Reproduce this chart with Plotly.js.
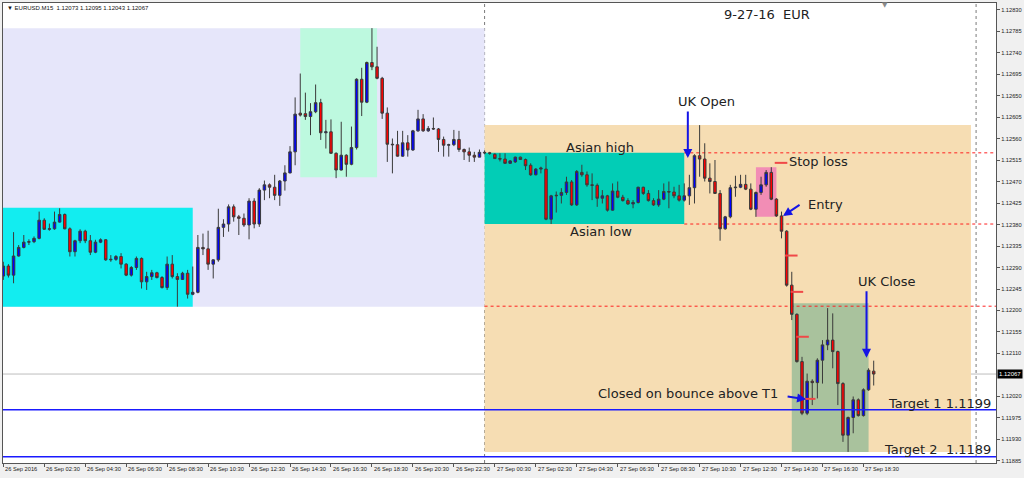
<!DOCTYPE html>
<html><head><meta charset="utf-8">
<script src="https://cdn.plot.ly/plotly-3.0.1.min.js"></script>
<style>html,body{margin:0;padding:0;background:#f0f0f0;overflow:hidden}#chart{width:1024px;height:478px}</style>
</head><body><div id="chart"></div>
<script>
// EURUSD M15, 26 Sep 2016 00:30 .. 27 Sep 2016 19:00 (one value per 15-minute bar)
const open = [1.12272,1.12293,1.12274,1.12314,1.12332,1.12343,1.12344,1.12351,1.12389,1.12370,
1.12371,1.12385,1.12401,1.12371,1.12323,1.12346,1.12366,1.12346,1.12322,1.12343,
1.12348,1.12306,1.12307,1.12313,1.12297,1.12274,1.12290,1.12309,1.12260,1.12271,
1.12279,1.12269,1.12248,1.12297,1.12271,1.12265,1.12278,1.12234,1.12238,1.12332,
1.12329,1.12297,1.12306,1.12374,1.12381,1.12417,1.12396,1.12393,1.12379,1.12429,
1.12381,1.12452,1.12463,1.12458,1.12441,1.12471,1.12488,1.12532,1.12613,1.12612,
1.12606,1.12616,1.12635,1.12572,1.12574,1.12529,1.12494,1.12525,1.12506,1.12541,
1.12684,1.12636,1.12719,1.12710,1.12686,1.12613,1.12548,1.12547,1.12523,1.12551,
1.12536,1.12576,1.12601,1.12576,1.12581,1.12580,1.12558,1.12546,1.12547,1.12558,
1.12537,1.12532,1.12525,1.12521,1.12531,1.12530,1.12527,1.12518,1.12517,1.12508,
1.12511,1.12521,1.12516,1.12504,1.12484,1.12496,1.12496,1.12391,1.12440,1.12441,
1.12447,1.12469,1.12421,1.12489,1.12484,1.12463,1.12462,1.12435,1.12440,1.12410,
1.12450,1.12437,1.12430,1.12423,1.12426,1.12458,1.12445,1.12430,1.12421,1.12433,
1.12449,1.12448,1.12440,1.12431,1.12440,1.12457,1.12524,1.12517,1.12477,1.12470,
1.12445,1.12371,1.12396,1.12457,1.12458,1.12464,1.12454,1.12412,1.12447,1.12463,
1.12489,1.12433,1.12398,1.12366,1.12253,1.12192,1.12093,1.11985,1.12052,1.12049,
1.12096,1.12128,1.12138,1.12114,1.12047,1.11939,1.11976,1.12013,1.11980,1.12034,
1.12073];
const high = [1.12302,1.12297,1.12364,1.12337,1.12358,1.12349,1.12355,1.12407,1.12393,1.12382,
1.12407,1.12414,1.12403,1.12374,1.12348,1.12370,1.12369,1.12358,1.12348,1.12351,
1.12349,1.12316,1.12316,1.12320,1.12299,1.12293,1.12313,1.12311,1.12281,1.12285,
1.12281,1.12272,1.12313,1.12316,1.12278,1.12281,1.12285,1.12292,1.12358,1.12361,
1.12367,1.12307,1.12413,1.12391,1.12422,1.12422,1.12400,1.12403,1.12435,1.12435,
1.12456,1.12472,1.12466,1.12484,1.12473,1.12504,1.12544,1.12646,1.12696,1.12656,
1.12634,1.12673,1.12643,1.12599,1.12600,1.12531,1.12595,1.12527,1.12585,1.12686,
1.12708,1.12721,1.12791,1.12752,1.12689,1.12625,1.12560,1.12576,1.12576,1.12567,
1.12578,1.12620,1.12611,1.12586,1.12604,1.12582,1.12564,1.12549,1.12578,1.12576,
1.12539,1.12541,1.12532,1.12537,1.12535,1.12532,1.12529,1.12529,1.12529,1.12515,
1.12522,1.12522,1.12518,1.12508,1.12498,1.12501,1.12523,1.12442,1.12449,1.12456,
1.12480,1.12473,1.12494,1.12505,1.12491,1.12487,1.12466,1.12452,1.12442,1.12466,
1.12470,1.12442,1.12435,1.12431,1.12459,1.12459,1.12452,1.12435,1.12452,1.12466,
1.12470,1.12459,1.12463,1.12466,1.12484,1.12527,1.12588,1.12550,1.12508,1.12515,
1.12452,1.12398,1.12463,1.12482,1.12484,1.12484,1.12466,1.12449,1.12480,1.12494,
1.12500,1.12435,1.12407,1.12368,1.12281,1.12194,1.12103,1.12068,1.12056,1.12100,
1.12138,1.12205,1.12194,1.12116,1.12050,1.11978,1.12020,1.12016,1.12037,1.12079,
1.12095];
const low = [1.12264,1.12269,1.12257,1.12313,1.12330,1.12337,1.12341,1.12349,1.12369,1.12367,
1.12369,1.12384,1.12370,1.12313,1.12313,1.12341,1.12341,1.12316,1.12320,1.12341,
1.12304,1.12302,1.12304,1.12288,1.12272,1.12271,1.12285,1.12246,1.12243,1.12264,
1.12267,1.12246,1.12243,1.12267,1.12208,1.12264,1.12225,1.12232,1.12236,1.12316,
1.12285,1.12267,1.12302,1.12354,1.12365,1.12386,1.12358,1.12375,1.12349,1.12372,
1.12375,1.12431,1.12435,1.12431,1.12419,1.12451,1.12487,1.12504,1.12606,1.12599,
1.12567,1.12613,1.12557,1.12539,1.12528,1.12477,1.12493,1.12480,1.12504,1.12537,
1.12607,1.12634,1.12703,1.12684,1.12601,1.12511,1.12487,1.12522,1.12522,1.12522,
1.12534,1.12574,1.12574,1.12574,1.12578,1.12532,1.12522,1.12522,1.12544,1.12532,
1.12515,1.12511,1.12511,1.12521,1.12527,1.12526,1.12517,1.12512,1.12507,1.12507,
1.12509,1.12515,1.12494,1.12482,1.12483,1.12487,1.12389,1.12381,1.12405,1.12424,
1.12442,1.12419,1.12419,1.12480,1.12459,1.12431,1.12417,1.12424,1.12407,1.12409,
1.12435,1.12428,1.12421,1.12414,1.12424,1.12442,1.12428,1.12419,1.12417,1.12431,
1.12414,1.12435,1.12428,1.12428,1.12421,1.12424,1.12480,1.12470,1.12445,1.12444,
1.12346,1.12369,1.12393,1.12438,1.12456,1.12452,1.12410,1.12396,1.12442,1.12459,
1.12431,1.12396,1.12351,1.12250,1.12180,1.12091,1.11981,1.11981,1.12002,1.12016,
1.12047,1.12117,1.12079,1.12002,1.11925,1.11904,1.11943,1.11978,1.11978,1.12032,
1.12043];
const close = [1.12293,1.12274,1.12314,1.12332,1.12343,1.12344,1.12351,1.12389,1.12370,1.12371,
1.12385,1.12401,1.12371,1.12323,1.12346,1.12366,1.12346,1.12322,1.12343,1.12348,
1.12306,1.12307,1.12313,1.12297,1.12274,1.12290,1.12309,1.12260,1.12271,1.12279,
1.12269,1.12248,1.12297,1.12271,1.12265,1.12278,1.12234,1.12238,1.12332,1.12329,
1.12297,1.12306,1.12374,1.12381,1.12417,1.12396,1.12393,1.12379,1.12429,1.12381,
1.12452,1.12463,1.12458,1.12441,1.12471,1.12488,1.12532,1.12611,1.12609,1.12606,
1.12616,1.12635,1.12572,1.12574,1.12529,1.12494,1.12525,1.12506,1.12541,1.12684,
1.12636,1.12719,1.12710,1.12686,1.12613,1.12548,1.12547,1.12523,1.12551,1.12536,
1.12576,1.12601,1.12576,1.12581,1.12580,1.12558,1.12546,1.12547,1.12558,1.12537,
1.12532,1.12525,1.12521,1.12531,1.12530,1.12529,1.12518,1.12517,1.12508,1.12513,
1.12521,1.12516,1.12503,1.12484,1.12496,1.12498,1.12391,1.12440,1.12441,1.12447,
1.12469,1.12421,1.12491,1.12484,1.12463,1.12462,1.12435,1.12440,1.12410,1.12450,
1.12437,1.12430,1.12423,1.12426,1.12458,1.12445,1.12430,1.12421,1.12433,1.12449,
1.12448,1.12440,1.12431,1.12440,1.12457,1.12524,1.12517,1.12477,1.12470,1.12445,
1.12371,1.12396,1.12457,1.12458,1.12464,1.12454,1.12412,1.12447,1.12463,1.12489,
1.12433,1.12398,1.12366,1.12253,1.12192,1.12093,1.11985,1.12052,1.12049,1.12096,
1.12128,1.12138,1.12114,1.12047,1.11939,1.11976,1.12013,1.11980,1.12034,1.12075,
1.12067];

// time axis labels (every 8 bars = 2 hours)
const tickBars = [0,8,16,24,32,40,48,56,64,72,80,88,96,104,112,120,128,136,144,152,160,168];
const tickLabels = ["26 Sep 2016","26 Sep 02:30","26 Sep 04:30","26 Sep 06:30","26 Sep 08:30","26 Sep 10:30",
"26 Sep 12:30","26 Sep 14:30","26 Sep 16:30","26 Sep 18:30","26 Sep 20:30","26 Sep 22:30",
"27 Sep 00:30","27 Sep 02:30","27 Sep 04:30","27 Sep 06:30","27 Sep 08:30","27 Sep 10:30",
"27 Sep 12:30","27 Sep 14:30","27 Sep 16:30","27 Sep 18:30"];
const priceTicks = [1.11885,1.11930,1.11975,1.12020,1.12110,1.12155,1.12200,1.12245,1.12290,1.12335,
1.12380,1.12425,1.12470,1.12515,1.12560,1.12605,1.12650,1.12695,1.12740,1.12785,1.12830];

// day separators (bar index of 00:00)
const daySeparators = [94, 190];

// zones: start bar, end bar, low, high
const zoneStart = [-3, -3, 58, 94, 94, 147, 154];
const zoneEnd   = [94, 37, 73, 189, 133, 151, 169];
const zoneLow   = [1.12208, 1.12208, 1.12479, 1.11904, 1.12381, 1.12396, 1.11904];
const zoneHigh  = [1.12791, 1.12415, 1.12791, 1.12588, 1.12530, 1.12500, 1.12215];

// levels
const asianHigh = 1.12530, asianLow = 1.12381, prevLow = 1.12209;
const target1 = 1.11992, target2 = 1.11894, lastPrice = 1.12067;

// trailing stop marks
const stopX = [151.9, 153.9, 155.0, 156.1, 157.4];
const stopY = [1.12509, 1.12315, 1.12239, 1.12145, 1.12015];

const header = "\u25BC EURUSD.M15  1.12073 1.12095 1.12043 1.12067";

// ---------- drawing ----------
const zoneColors = ['#E6E6FA', '#12EDF0', '#BDF9DF', '#F6DDB3', '#02CDB6', '#F28DB5', '#A9C29D'];
const bars = open.map((_, i) => i);
const XR = [-0.06, 193.89], YR = [1.118808, 1.128436];
const PX = x => (x - 3) / 993, PY = y => (463 - y) / 460;

const shapes = [];
zoneStart.forEach((s, k) => shapes.push({type:'rect', xref:'x', yref:'y', x0:s, x1:zoneEnd[k], y0:zoneLow[k], y1:zoneHigh[k],
  fillcolor: zoneColors[k], line:{width:0}, layer:'below'}));
daySeparators.forEach(d => shapes.push({type:'line', xref:'x', yref:'paper', x0:d, x1:d, y0:0, y1:1,
  line:{color:'#7a7a7a', width:1, dash:'dot'}, layer:'below'}));
shapes.push({type:'line', xref:'x', yref:'y', x0:133, x1:XR[1], y0:asianHigh, y1:asianHigh, line:{color:'#ff2020', width:1, dash:'dot'}, layer:'below'});
shapes.push({type:'line', xref:'x', yref:'y', x0:133, x1:XR[1], y0:asianLow, y1:asianLow, line:{color:'#ff2020', width:1, dash:'dot'}, layer:'below'});
shapes.push({type:'line', xref:'x', yref:'y', x0:94, x1:XR[1], y0:prevLow, y1:prevLow, line:{color:'#ff2020', width:1, dash:'dot'}, layer:'below'});
shapes.push({type:'line', xref:'paper', yref:'y', x0:0, x1:1, y0:lastPrice, y1:lastPrice, line:{color:'#bdbdbd', width:1}, layer:'below'});
shapes.push({type:'line', xref:'paper', yref:'y', x0:0, x1:1, y0:target1, y1:target1, line:{color:'#1a1aff', width:1.5}});
shapes.push({type:'line', xref:'paper', yref:'y', x0:0, x1:1, y0:target2, y1:target2, line:{color:'#1a1aff', width:1.5}});

const txtFont = {family:'DejaVu Sans', size:13, color:'#222'};
const axFont = {family:'Liberation Sans', size:5.7, color:'#222'};
const label = (t, x, y, anchor) => ({text:t, xref:'paper', yref:'paper', x:PX(x), y:PY(y), xanchor:anchor||'center', yanchor:'middle', showarrow:false, font:txtFont});
const arrow = (x, y, ax, ay) => ({text:'', xref:'x', yref:'y', x:x, y:y, ax:ax, ay:ay, axref:'pixel', ayref:'pixel', showarrow:true,
  arrowhead:2, arrowsize:0.9, arrowwidth:2, arrowcolor:'#1414e6', standoff:0});

const annotations = [
  {text:header, xref:'paper', yref:'paper', x:PX(5), y:PY(8), xanchor:'left', yanchor:'middle', showarrow:false, font:{family:'Liberation Sans', size:6, color:'#111'}},
  {text:'\u25BC', xref:'paper', yref:'paper', x:PX(885), y:PY(5), xanchor:'center', yanchor:'middle', showarrow:false, font:{family:'DejaVu Sans', size:7, color:'#8a8a8a'}},
  label('9-27-16 \u00a0EUR', 767, 15),
  label('Asian high', 600, 148),
  label('Asian low', 601, 231),
  label('UK Open', 706, 102),
  label('Stop loss', 787, 161, 'left'),
  label('Entry', 806, 204, 'left'),
  label('UK Close', 856, 281, 'left'),
  label('Closed on bounce above T1', 688, 393),
  label('Target 1 1.1199', 993, 403, 'right'),
  label('Target 2 \u00a01.1189', 993, 449, 'right'),
  arrow(133.7, 1.12519, 0, -48),
  arrow(152.3, 1.12398, 18, -12),
  arrow(168.6, 1.12101, 0, -68),
  arrow(156.8, 1.12014, -20, -3),
  {text:lastPrice.toFixed(5), xref:'paper', yref:'y', x:1, y:lastPrice, xanchor:'left', yanchor:'middle', xshift:1, showarrow:false,
    bgcolor:'#000', borderpad:1, font:{family:'Liberation Sans', size:6, color:'#fff'}}
];
tickBars.forEach((b, k) => annotations.push({text:tickLabels[k], xref:'x', yref:'paper', x:b, y:PY(468.5),
  xanchor:'left', yanchor:'middle', xshift:0, showarrow:false, font:axFont}));

const traces = [
  {type:'candlestick', x:bars, open:open, high:high, low:low, close:close, hoverinfo:'skip',
   increasing:{line:{color:'#3a3a3a', width:1}, fillcolor:'#0000ff'},
   decreasing:{line:{color:'#3a3a3a', width:1}, fillcolor:'#ff0000'}, whiskerwidth:0},
  {type:'scatter', mode:'markers', x:stopX, y:stopY, hoverinfo:'skip',
   marker:{symbol:'line-ew-open', size:9, color:'#f04848', line:{color:'#f04848', width:2}}}
];

const layout = {
  width:1024, height:478, autosize:false, showlegend:false,
  margin:{l:3, r:28, t:3, b:15, pad:0},
  paper_bgcolor:'#f0f0f0', plot_bgcolor:'#ffffff', boxgap:0.3,
  xaxis:{type:'linear', range:XR, showgrid:false, zeroline:false, rangeslider:{visible:false},
    tickmode:'array', tickvals:tickBars, showticklabels:false, ticks:'outside', ticklen:3, tickcolor:'#555',
    showline:true, linecolor:'#555', mirror:true, fixedrange:true},
  yaxis:{range:YR, side:'right', showgrid:false, zeroline:false, tickmode:'array', tickvals:priceTicks, tickformat:'.5f',
    ticks:'outside', ticklen:3, tickcolor:'#555', tickfont:axFont,
    showline:true, linecolor:'#555', mirror:true, fixedrange:true},
  shapes:shapes, annotations:annotations
};
Plotly.newPlot('chart', traces, layout, {displayModeBar:false, staticPlot:true});
</script>
</body></html>
